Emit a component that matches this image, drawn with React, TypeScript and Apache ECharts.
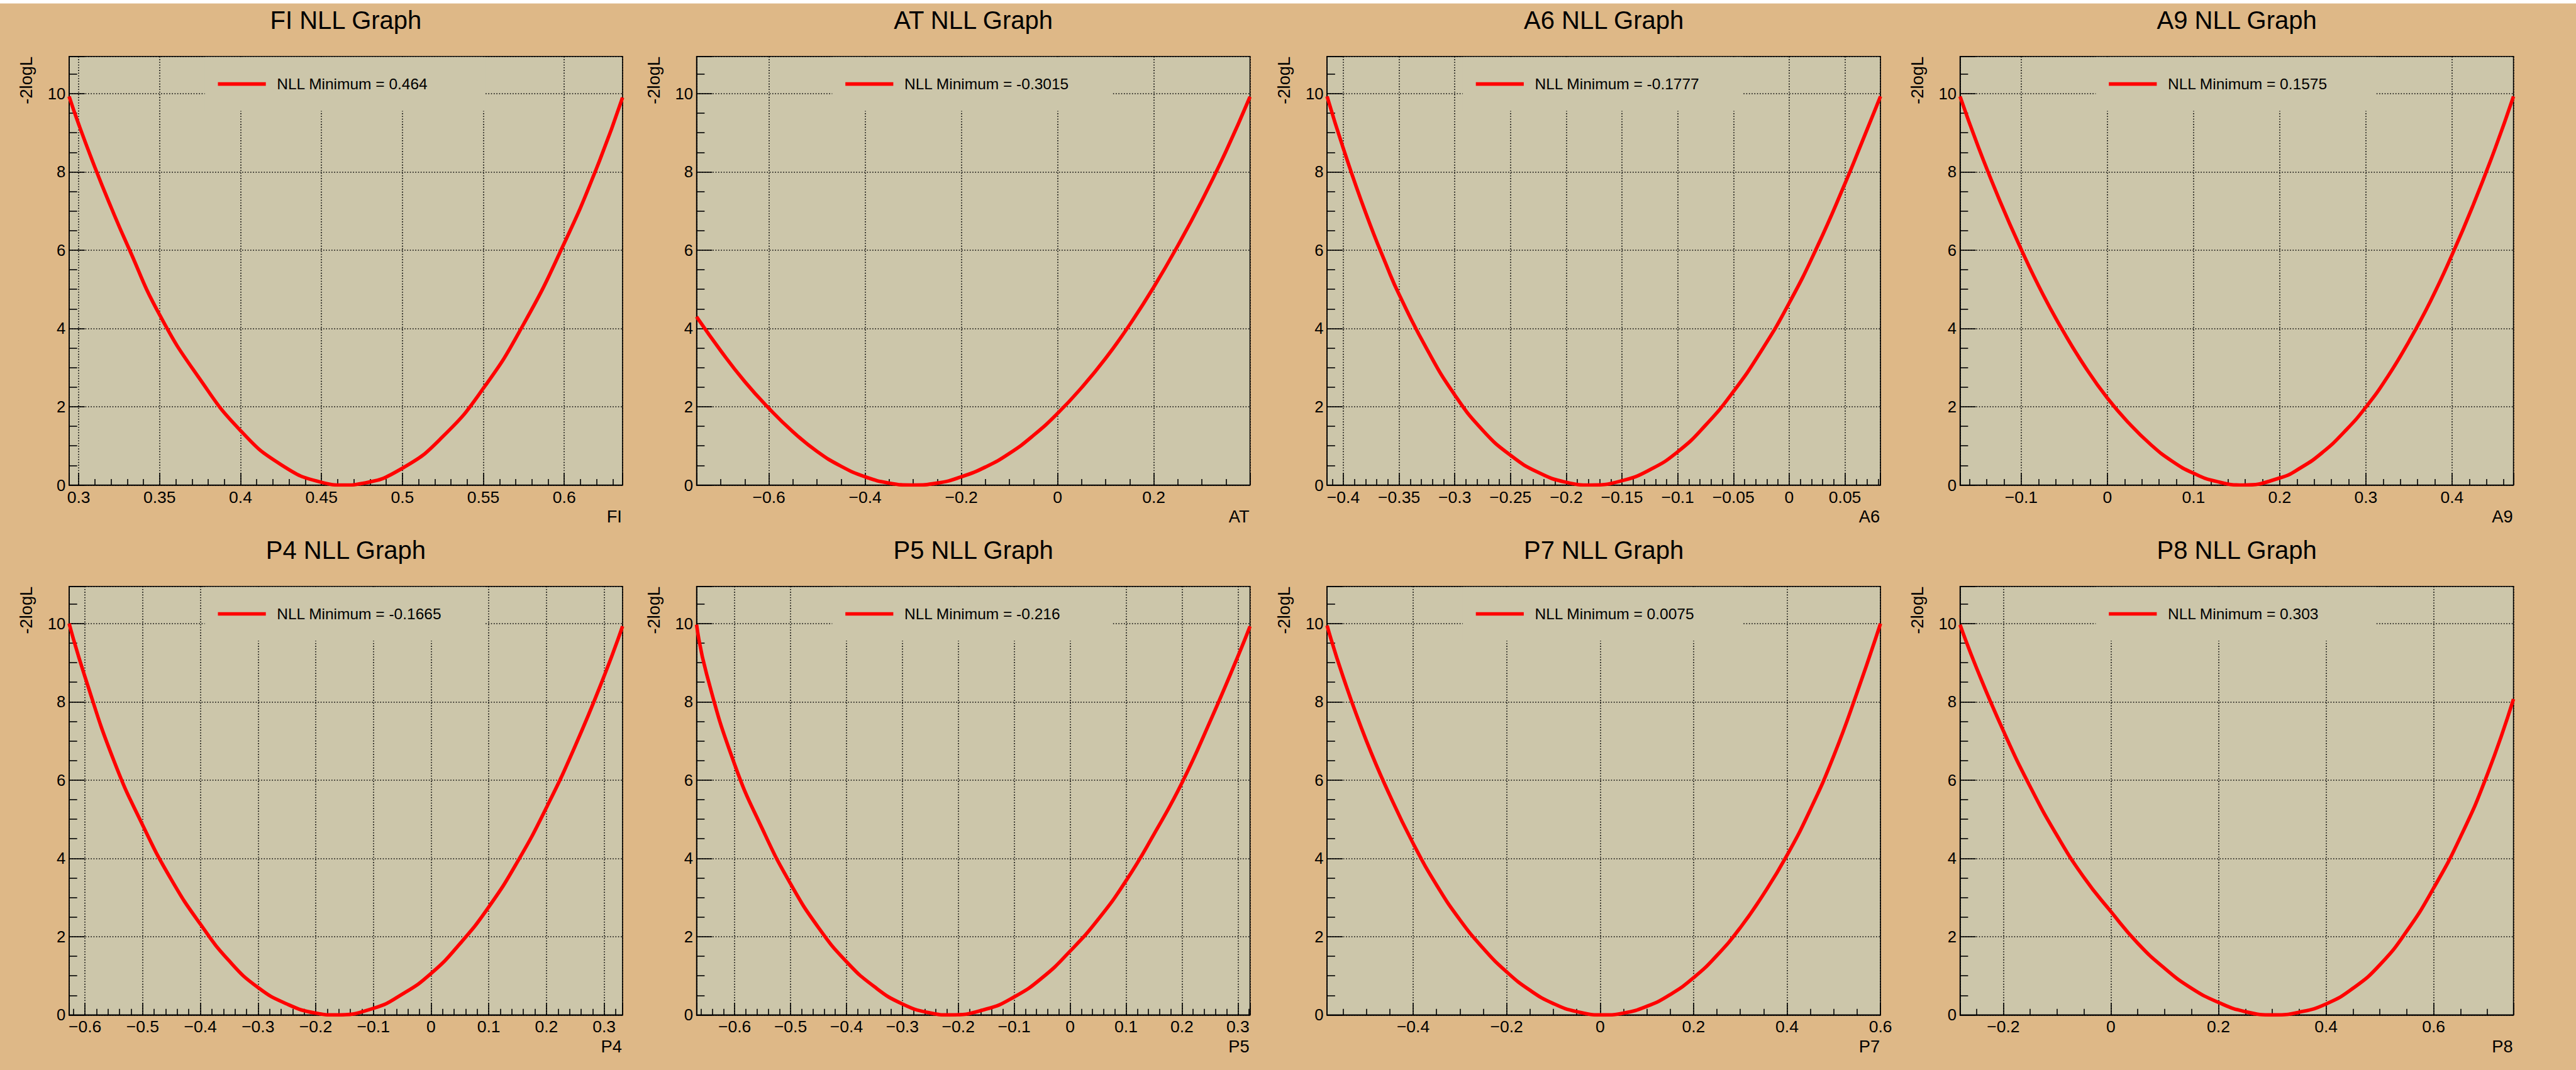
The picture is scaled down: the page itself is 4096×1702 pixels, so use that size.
import React, { useEffect, useRef } from "react";
import * as echarts from "echarts";

// Canvas size and palette
const WIDTH = 4096;
const HEIGHT = 1702;
const CANVAS_FILL = "#DEB887";
const FRAME_FILL = "#CCC6AA";
const CURVE = "#FF0000";
const FONT = "Liberation Sans";

// Parameter scanned in each pad and the fitted minimum shown in its legend
const panelNames = ["FI", "AT", "A6", "A9", "P4", "P5", "P7", "P8"];
const nllMinimum = ["0.464", "-0.3015", "-0.1777", "0.1575", "-0.1665", "-0.216", "0.0075", "0.303"];

// X axis ranges and tick steps per pad
const xMin = [0.2941, -0.7503, -0.4146, -0.171, -0.6275, -0.6681, -0.5843, -0.2805];
const xMax = [0.636, 0.3999, 0.0819, 0.4713, 0.3319, 0.3217, 0.6, 0.7485];
const xMajorStep = [0.05, 0.2, 0.05, 0.1, 0.1, 0.1, 0.2, 0.2];
const xMinorSplit = [5, 4, 5, 5, 5, 5, 4, 4];
const showXMaxLabel = [false, false, false, false, false, false, true, false];

// Shared Y axis (-2logL)
const yMax = 10.95;
const yMajorStep = 2;
const yMinorSplit = 4;

// -2logL scans: [parameter value, -2logL]
const scanFI: [number, number][] = [
  [0.2941, 9.93], [0.30, 9.22], [0.31, 8.12], [0.32, 7.10], [0.33, 6.14], [0.35, 4.35],
  [0.375, 2.70], [0.40, 1.39], [0.425, 0.52], [0.45, 0.07], [0.464, 0], [0.475, 0.04],
  [0.50, 0.43], [0.525, 1.24], [0.55, 2.47], [0.575, 4.12], [0.60, 6.18], [0.62, 8.10], [0.636, 9.90],
];
const scanAT: [number, number][] = [
  [-0.7503, 4.30], [-0.70, 3.43], [-0.65, 2.64], [-0.60, 1.96], [-0.55, 1.36], [-0.50, 0.86],
  [-0.45, 0.48], [-0.40, 0.21], [-0.35, 0.05], [-0.3015, 0], [-0.25, 0.05], [-0.20, 0.21],
  [-0.15, 0.46], [-0.10, 0.81], [-0.05, 1.27], [0, 1.83], [0.05, 2.49], [0.10, 3.24],
  [0.15, 4.10], [0.20, 5.06], [0.25, 6.12], [0.30, 7.27], [0.35, 8.53], [0.3999, 9.92],
];
const scanA6: [number, number][] = [
  [-0.4146, 9.93], [-0.40, 8.60], [-0.38, 6.96], [-0.36, 5.52], [-0.35, 4.87], [-0.325, 3.47],
  [-0.30, 2.30], [-0.275, 1.40], [-0.25, 0.76], [-0.225, 0.32], [-0.20, 0.07], [-0.1777, 0],
  [-0.15, 0.11], [-0.125, 0.39], [-0.10, 0.85], [-0.075, 1.53], [-0.05, 2.39], [-0.025, 3.43],
  [0, 4.65], [0.025, 6.08], [0.05, 7.70], [0.065, 8.74], [0.0819, 9.93],
];
const scanA9: [number, number][] = [
  [-0.171, 9.93], [-0.15, 8.65], [-0.125, 7.27], [-0.10, 6.02], [-0.075, 4.88], [-0.05, 3.88],
  [-0.025, 2.99], [0, 2.22], [0.025, 1.58], [0.05, 1.04], [0.075, 0.61], [0.10, 0.30],
  [0.125, 0.10], [0.1575, 0], [0.20, 0.18], [0.225, 0.45], [0.25, 0.84], [0.275, 1.36],
  [0.30, 1.99], [0.325, 2.76], [0.35, 3.67], [0.375, 4.70], [0.40, 5.88], [0.425, 7.18],
  [0.45, 8.60], [0.4713, 9.93],
];
const scanP4: [number, number][] = [
  [-0.6275, 10.0], [-0.60, 8.64], [-0.55, 6.50], [-0.50, 4.85], [-0.45, 3.45], [-0.40, 2.32],
  [-0.35, 1.38], [-0.30, 0.70], [-0.25, 0.28], [-0.20, 0.045], [-0.1665, 0], [-0.10, 0.17],
  [-0.05, 0.53], [0, 1.06], [0.05, 1.82], [0.10, 2.76], [0.15, 3.92], [0.20, 5.30],
  [0.25, 6.88], [0.30, 8.66], [0.3319, 9.93],
];
const scanP5: [number, number][] = [
  [-0.6681, 9.97], [-0.65, 8.70], [-0.60, 6.40], [-0.55, 4.74], [-0.50, 3.35], [-0.45, 2.23],
  [-0.40, 1.36], [-0.35, 0.72], [-0.30, 0.28], [-0.25, 0.05], [-0.216, 0], [-0.15, 0.15],
  [-0.10, 0.46], [-0.05, 0.95], [0, 1.63], [0.05, 2.44], [0.10, 3.43], [0.15, 4.62],
  [0.20, 5.93], [0.25, 7.49], [0.30, 9.16], [0.3217, 9.93],
];
const scanP7: [number, number][] = [
  [-0.5843, 9.95], [-0.55, 8.64], [-0.50, 7.00], [-0.45, 5.61], [-0.40, 4.38], [-0.35, 3.32],
  [-0.30, 2.43], [-0.25, 1.70], [-0.20, 1.10], [-0.15, 0.63], [-0.10, 0.29], [-0.05, 0.085],
  [0.0075, 0], [0.05, 0.046], [0.10, 0.22], [0.15, 0.52], [0.20, 0.95], [0.25, 1.52],
  [0.30, 2.23], [0.35, 3.09], [0.40, 4.08], [0.45, 5.25], [0.50, 6.62], [0.55, 8.24], [0.60, 10.0],
];
const scanP8: [number, number][] = [
  [-0.2805, 9.97], [-0.25, 8.87], [-0.20, 7.26], [-0.15, 5.83], [-0.10, 4.58], [-0.05, 3.51],
  [0, 2.64], [0.05, 1.83], [0.10, 1.19], [0.15, 0.68], [0.20, 0.32], [0.25, 0.084],
  [0.303, 0], [0.35, 0.07], [0.40, 0.28], [0.45, 0.68], [0.50, 1.28], [0.55, 2.14],
  [0.60, 3.24], [0.65, 4.55], [0.70, 6.15], [0.7485, 8.07],
];
const scans = [scanFI, scanAT, scanA6, scanA9, scanP4, scanP5, scanP7, scanP8];

// Pad layout (px)
const colLeft = [109.9, 1107.6, 2110.1, 3116.6];
const rowTop = [89.8, 932.7];
const plotW = 880;
const plotH = 681.7;

const tickText = (v: number) => (v < 0 ? "\u2212" + String(-v) : String(v));
const legendLabel = (i: number) => "NLL Minimum = " + nllMinimum[i];

const black = { color: "#000", width: 1.6 };
const dotted = { color: "#000", width: 1.6, type: [1.6, 2.7] as number[] };

function buildOption() {
  const grids: any[] = [];
  const xAxes: any[] = [];
  const yAxes: any[] = [];
  const series: any[] = [];
  const legends: any[] = [];
  const graphics: any[] = [
    { type: "rect", z: 10, shape: { x: 0, y: 0, width: WIDTH, height: 5.6 }, style: { fill: "#FFFFFF" } },
  ];

  panelNames.forEach((name, i) => {
    const left = colLeft[i % 4];
    const top = rowTop[Math.floor(i / 4)];

    grids.push({
      left, top, width: plotW, height: plotH, containLabel: false,
      show: true, backgroundColor: FRAME_FILL, borderColor: "#000", borderWidth: 1.6,
    });

    xAxes.push({
      type: "value", gridIndex: i, min: xMin[i], max: xMax[i],
      minInterval: xMajorStep[i], maxInterval: xMajorStep[i], splitNumber: 5,
      axisLine: { show: true, onZero: false, lineStyle: black },
      axisTick: { show: true, inside: true, length: 19.2, lineStyle: black },
      minorTick: { show: true, splitNumber: xMinorSplit[i], length: 9.6, lineStyle: black },
      axisLabel: {
        show: true, color: "#000", fontSize: 26.5, fontFamily: FONT, margin: 5.5,
        showMinLabel: false, showMaxLabel: showXMaxLabel[i], formatter: tickText,
      },
      splitLine: { show: true, lineStyle: dotted },
    });

    yAxes.push({
      type: "value", gridIndex: i, min: 0, max: yMax,
      minInterval: yMajorStep, maxInterval: yMajorStep, splitNumber: 5,
      axisLine: { show: true, onZero: false, lineStyle: black },
      axisTick: { show: true, inside: true, length: 24.9, lineStyle: black },
      minorTick: { show: true, splitNumber: yMinorSplit, length: 12.8, lineStyle: black },
      axisLabel: {
        show: true, color: "#000", fontSize: 25.7, fontFamily: FONT, margin: 5.6,
        showMinLabel: true, showMaxLabel: false, formatter: tickText,
      },
      splitLine: { show: true, lineStyle: dotted },
    });

    series.push({
      type: "line", name: legendLabel(i), xAxisIndex: i, yAxisIndex: i, data: scans[i],
      smooth: 0.5, showSymbol: false, symbol: "none", silent: true,
      lineStyle: { color: CURVE, width: 5.6 }, itemStyle: { color: CURVE }, z: 2,
    });

    legends.push({
      data: [legendLabel(i)], left: left + 236.6, top: top + 31.3, orient: "horizontal",
      icon: "rect", itemWidth: 76.2, itemHeight: 5.6, itemGap: 0, padding: 0, selectedMode: false,
      textStyle: { color: "#000", fontSize: 24.5, fontFamily: FONT, lineHeight: 24, padding: [0, 0, 0, 12.6] },
    });

    // legend box hides the grid behind it
    graphics.push({
      type: "rect", z: 1, silent: true,
      shape: { x: left + 215.7, y: top + 1, width: 446, height: 85.6 },
      style: { fill: FRAME_FILL },
    });

    // pad title
    graphics.push({
      type: "text", x: left + plotW / 2, y: top - 58.1, silent: true,
      style: {
        text: name + " NLL Graph", fill: "#000", fontSize: 40, fontFamily: FONT,
        align: "center", verticalAlign: "middle", textAlign: "center", textVerticalAlign: "middle",
      },
    });

    // y axis title
    graphics.push({
      type: "text", x: left - 68.2, y: top, rotation: Math.PI / 2, silent: true,
      style: {
        text: "-2logL", fill: "#000", fontSize: 27.3, fontFamily: FONT,
        align: "right", verticalAlign: "middle", textAlign: "right", textVerticalAlign: "middle",
      },
    });

    // x axis title
    graphics.push({
      type: "text", x: left + plotW - 1, y: top + plotH + 49.7, silent: true,
      style: {
        text: name, fill: "#000", fontSize: 27.3, fontFamily: FONT,
        align: "right", verticalAlign: "middle", textAlign: "right", textVerticalAlign: "middle",
      },
    });
  });

  return {
    animation: false,
    backgroundColor: CANVAS_FILL,
    textStyle: { fontFamily: FONT },
    grid: grids,
    xAxis: xAxes,
    yAxis: yAxes,
    legend: legends,
    series,
    graphic: graphics,
  };
}

export default function App() {
  const ref = useRef<HTMLDivElement>(null);

  useEffect(() => {
    if (!ref.current) return;
    const chart = echarts.init(ref.current, undefined, { renderer: "svg", width: WIDTH, height: HEIGHT });
    chart.setOption(buildOption() as any);
    return () => chart.dispose();
  }, []);

  return (
    <div
      ref={ref}
      style={{ position: "fixed", left: 0, top: 0, width: WIDTH, height: HEIGHT }}
    />
  );
}
